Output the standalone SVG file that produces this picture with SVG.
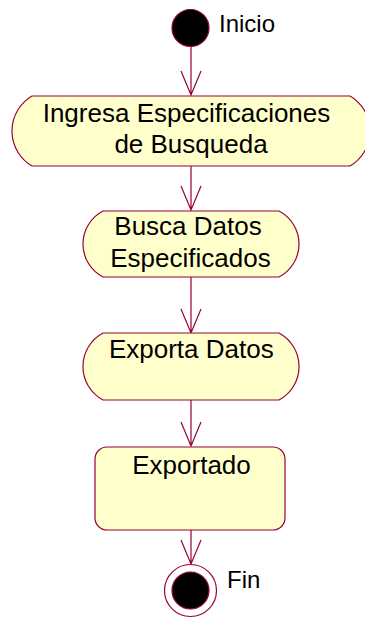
<svg xmlns="http://www.w3.org/2000/svg" width="365" height="619" viewBox="0 0 365 619">
<style>
.shape{fill:#FFFFCC;stroke:#990033;stroke-width:1.2}
.lbl{font-family:"Liberation Sans",Arial,sans-serif;font-size:26px;fill:#000;text-anchor:middle}
.side{font-family:"Liberation Sans",Arial,sans-serif;font-size:24px;fill:#000}
.conn{stroke:#990033;stroke-width:1.2;fill:none}
</style>
<rect width="365" height="619" fill="#fff"/>
<g id="connectors">
<path class="conn" d="M191,46 V95 M181,71 L191,95 L201,71"/>
<path class="conn" d="M191,166 V210 M181,186 L191,210 L201,186"/>
<path class="conn" d="M191,277 V333 M181,309 L191,333 L201,309"/>
<path class="conn" d="M191,400 V446 M181,422 L191,446 L201,422"/>
<path class="conn" d="M191,530 V564 M181,540 L191,564 L201,540"/>
</g>
<g id="inicio">
<circle cx="190.5" cy="28" r="18.5" fill="#000" stroke="#990033" stroke-width="1.2"/>
<text class="side" x="219" y="32">Inicio</text>
</g>
<g id="ingresa">
<path class="shape" d="M32,96 H350 A40.6,40.6 0 0 1 350,166 H32 A40.6,40.6 0 0 1 32,96 Z"/>
<text class="lbl" x="186.5" y="122">Ingresa Especificaciones</text>
<text class="lbl" x="191" y="153">de Busqueda</text>
</g>
<g id="busca">
<path class="shape" d="M103,211 H279 A37.2,37.2 0 0 1 279,277 H103 A37.2,37.2 0 0 1 103,211 Z"/>
<text class="lbl" x="188" y="235">Busca Datos</text>
<text class="lbl" x="190.5" y="267">Especificados</text>
</g>
<g id="exporta">
<path class="shape" d="M103,333 H279 A38,38 0 0 1 279,400 H103 A38,38 0 0 1 103,333 Z"/>
<text class="lbl" x="191.3" y="358">Exporta Datos</text>
</g>
<g id="exportado">
<rect class="shape" x="95" y="447" width="190" height="83" rx="12" ry="12"/>
<text class="lbl" x="191.5" y="474">Exportado</text>
</g>
<g id="fin">
<circle cx="190.5" cy="590.5" r="26" fill="#fff" stroke="#990033" stroke-width="1.2"/>
<circle cx="190.5" cy="590.5" r="18.5" fill="#000" stroke="#990033" stroke-width="1.2"/>
<text class="side" x="227" y="588">Fin</text>
</g>
</svg>
